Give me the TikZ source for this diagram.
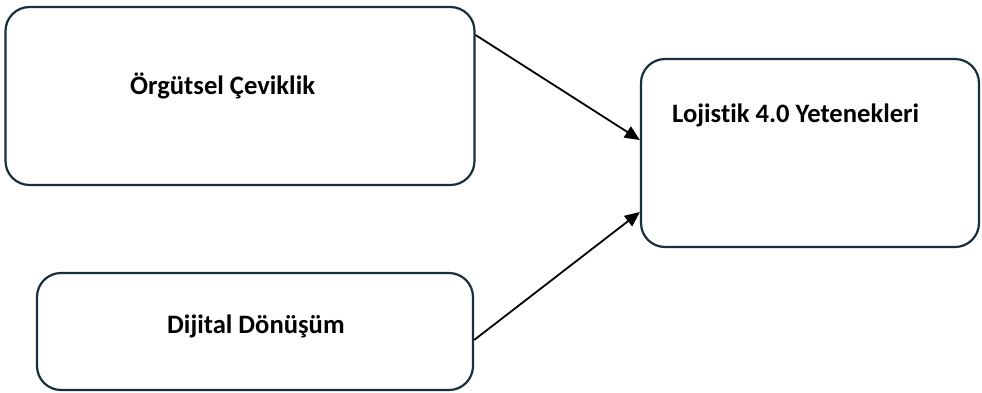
\documentclass[tikz,border=0pt]{standalone}
\usepackage{fontspec}
\setmainfont[Ligatures=NoCommon]{Carlito}
\usetikzlibrary{arrows.meta}
\definecolor{navy}{HTML}{17303F}
\begin{document}
\begin{tikzpicture}[x=1pt,y=-1pt,
  box/.style={draw=navy,line width=2.2pt,rounded corners=24pt,inner sep=0pt},
  lbl/.style={anchor=base west,inner sep=0pt,font=\fontsize{26.6}{30}\selectfont\bfseries},
  arr/.style={line width=1.8pt,-{Triangle[length=15pt,width=13pt]}}]
\useasboundingbox (0,0) rectangle (982,392);
\node[box,minimum width=469pt,minimum height=178pt] (b1) at (240,96) {};
\node[box,minimum width=436pt,minimum height=117pt] (b2) at (255,331.5) {};
\node[box,minimum width=338pt,minimum height=188pt] (b3) at (810,153) {};
\node[lbl] (t1) at (130,94) {Örgütsel Çeviklik};
\node[lbl] (t2) at (167,333) {Dijital Dönüşüm};
\node[lbl] (t3) at (672,122) {Lojistik 4.0 Yetenekleri};
\draw[arr] (b1.east |- 0,35) -- (b3.west |- 0,140);
\draw[arr] (b2.east |- 0,340) -- (b3.west |- 0,212);
\end{tikzpicture}
\end{document}
